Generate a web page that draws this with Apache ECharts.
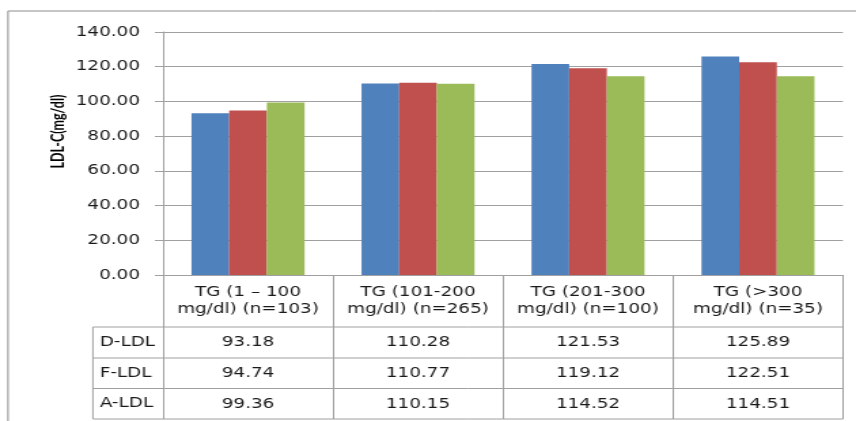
<!DOCTYPE html>
<html>
<head>
<meta charset="utf-8">
<script src="https://cdn.jsdelivr.net/npm/echarts@6/dist/echarts.min.js"></script>
<style>
  html, body { margin: 0; padding: 0; background: #ffffff; overflow: hidden; }
  #chart { width: 630px; height: 421px; transform: scaleX(1.358730); transform-origin: 0 0; }
</style>
</head>
<body>
<div id="chart"></div>
<script>
// ---- data ----
const categories = [
  'TG (1 – 100\nmg/dl) (n=103)',
  'TG (101-200\nmg/dl) (n=265)',
  'TG (201-300\nmg/dl) (n=100)',
  'TG (>300\nmg/dl) (n=35)'
];
const seriesNames = ['D-LDL', 'F-LDL', 'A-LDL'];
const dLDL = [93.18, 110.28, 121.53, 125.89];
const fLDL = [94.74, 110.77, 119.12, 122.51];
const aLDL = [99.36, 110.15, 114.52, 114.51];
const yTicks = { min: 0, max: 140, interval: 20 };
const yTitle = 'LDL-C(mg/dl)';

// ---- layout / style ----
const W = 630, H = 421;
const gridLeft = 120, gridRight = 9.6, gridTop = 32, gridBottom = 146;
const axisY = H - gridBottom;              // 275
const rowLines = [327, 358, 388.5, 419];   // table horizontal lines
const legendLeft = 68.4;
const colors = ['#4F81BD', '#C0504D', '#9BBB59'];
const lineColor = '#a0a0a0';
const textColor = '#1a1a1a';
const FONT = 'DejaVu Sans';
const FS = 13.5;
const allSeries = [dLDL, fLDL, aLDL];

const chart = echarts.init(document.getElementById('chart'), null, { renderer: 'canvas', width: W, height: H });

const rowAxes = allSeries.map((vals, i) => ({
  type: 'category',
  gridIndex: 0,
  position: 'bottom',
  offset: rowLines[i] - axisY,
  data: categories,
  axisLine: { show: false },
  axisTick: { show: false },
  splitLine: { show: false },
  axisLabel: {
    interval: 0,
    margin: 8.5,
    fontFamily: FONT,
    fontSize: FS,
    color: textColor,
    formatter: (v, idx) => vals[idx].toFixed(2)
  }
}));

const gridRightX = W - gridRight;
const graphics = [];
// outer chart border (left & top visible)
graphics.push({ type: 'rect', shape: { x: 5.9, y: 11, width: 800, height: 600 },
  style: { fill: null, stroke: '#8c8c8c', lineWidth: 1 }, silent: true });
// table horizontal lines
rowLines.forEach(y => graphics.push({ type: 'line',
  shape: { x1: legendLeft, y1: y, x2: gridRightX, y2: y },
  style: { stroke: lineColor, lineWidth: 1 }, silent: true }));
// legend column left line
graphics.push({ type: 'line', shape: { x1: legendLeft, y1: rowLines[0], x2: legendLeft, y2: rowLines[rowLines.length - 1] },
  style: { stroke: lineColor, lineWidth: 1 }, silent: true });
// legend column text
seriesNames.forEach((n, i) => graphics.push({ type: 'text',
  x: legendLeft + 5, y: (rowLines[i] + rowLines[i + 1]) / 2,
  style: { text: n, fontFamily: FONT, fontSize: FS, fill: textColor, verticalAlign: 'middle' },
  silent: true }));
// y axis title
graphics.push({ type: 'text', x: 43.4, y: 131.5, rotation: Math.PI / 2,
  style: { text: yTitle, fontFamily: 'Lato', fontWeight: 'bold', fontSize: 12.5, fill: '#000',
    align: 'center', verticalAlign: 'middle' }, silent: true });

const option = {
  animation: false,
  backgroundColor: '#ffffff',
  grid: { left: gridLeft, right: gridRight, top: gridTop, bottom: gridBottom, containLabel: false },
  xAxis: [
    {
      type: 'category',
      data: categories,
      axisLine: { show: true, lineStyle: { color: lineColor, width: 1 } },
      axisTick: { show: true, length: rowLines[rowLines.length - 1] - axisY, lineStyle: { color: lineColor, width: 1 } },
      splitLine: { show: false },
      axisLabel: {
        interval: 0,
        margin: 9,
        fontFamily: FONT,
        fontSize: FS,
        lineHeight: 17,
        color: textColor
      }
    }
  ].concat(rowAxes),
  yAxis: {
    type: 'value',
    min: yTicks.min, max: yTicks.max, interval: yTicks.interval,
    axisLine: { show: true, lineStyle: { color: lineColor, width: 1 } },
    axisTick: { show: true, length: 6, lineStyle: { color: lineColor, width: 1 } },
    splitLine: { show: true, lineStyle: { color: lineColor, width: 1 } },
    axisLabel: {
      margin: 17,
      fontFamily: FONT,
      fontSize: FS,
      color: textColor,
      formatter: v => v.toFixed(2)
    }
  },
  series: allSeries.map((vals, i) => ({
    name: seriesNames[i],
    type: 'bar',
    xAxisIndex: 0,
    data: vals,
    barGap: '0%',
    barCategoryGap: '33.5%',
    itemStyle: { color: colors[i] }
  })),
  graphic: graphics
};
chart.setOption(option);
</script>
</body>
</html>
